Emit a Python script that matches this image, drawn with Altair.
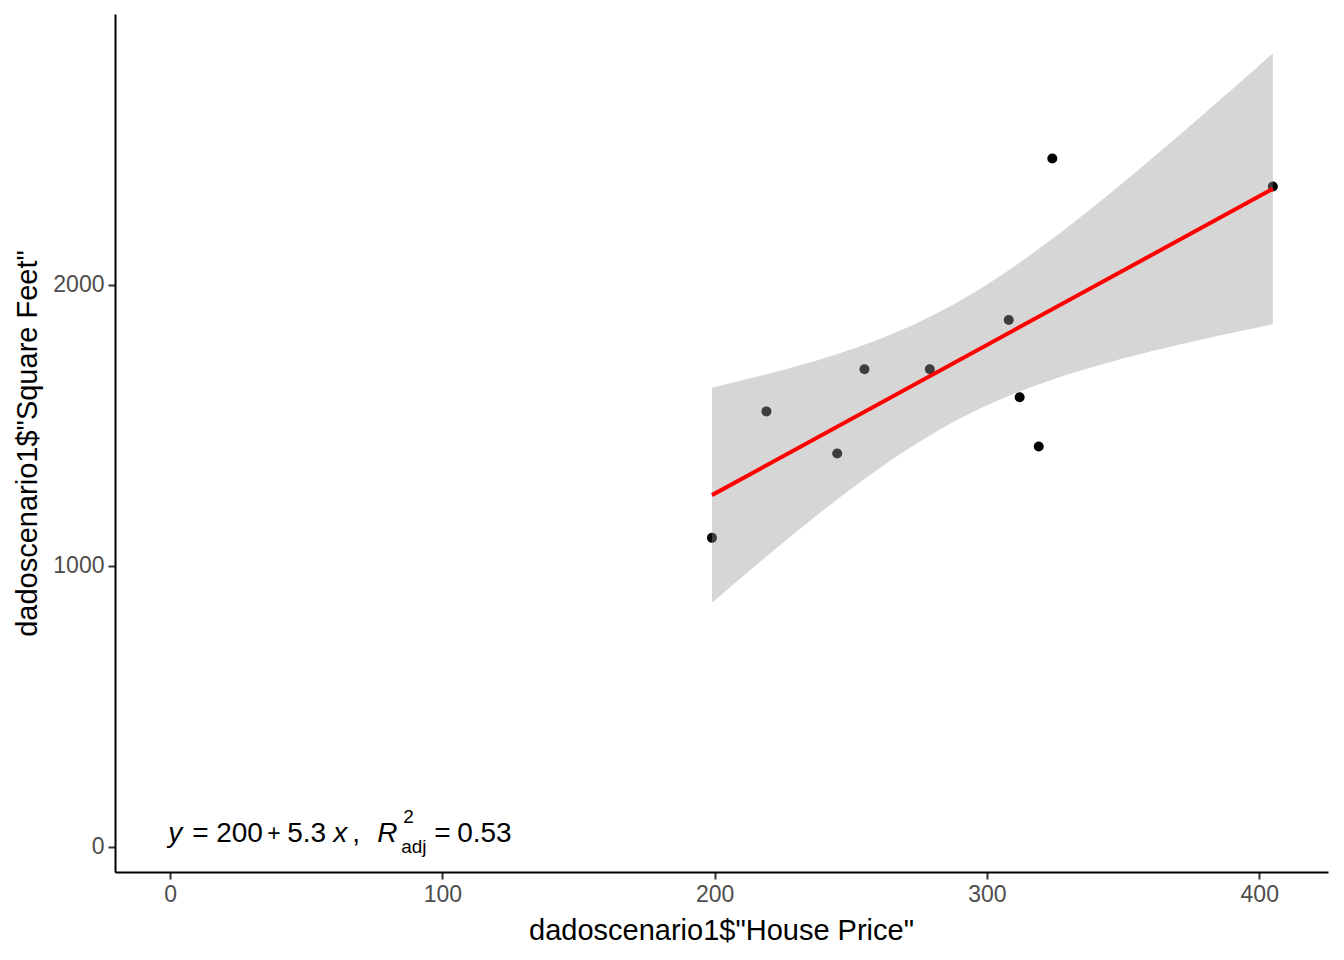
import altair as alt
import numpy as np
import pandas as pd

# ---- data ----
house_price = [245, 312, 279, 308, 199, 219, 405, 324, 319, 255]
square_feet = [1400, 1600, 1700, 1875, 1100, 1550, 2350, 2450, 1425, 1700]

x_ticks = [0, 100, 200, 300, 400]
y_ticks = [0, 1000, 2000]

x_title = 'dadoscenario1$"House Price"'
y_title = 'dadoscenario1$"Square Feet"'

eq_anchor_x = [0]
eq_anchor_y = [50]

FONT = "Liberation Sans"

points = pd.DataFrame({"price": house_price, "sqft": square_feet})

# ---- lm fit with 95% confidence band (as geom_smooth(method="lm")) ----
xv = np.array(house_price, float)
yv = np.array(square_feet, float)
n = len(xv)
slope, intercept = np.polyfit(xv, yv, 1)
resid = yv - (intercept + slope * xv)
s = np.sqrt(np.sum(resid ** 2) / (n - 2))
sxx = np.sum((xv - xv.mean()) ** 2)
t_crit = 2.306004  # qt(0.975, df = 8)
grid = np.linspace(xv.min(), xv.max(), 80)
fit = intercept + slope * grid
se = s * np.sqrt(1.0 / n + (grid - xv.mean()) ** 2 / sxx)
band = pd.DataFrame({"price": grid, "lo": fit - t_crit * se, "hi": fit + t_crit * se})

xscale = alt.Scale(domain=[-20.25, 425.25], nice=False, zero=False)
yscale = alt.Scale(domain=[-89, 2964], nice=False, zero=False)

axis_common = dict(
    grid=False,
    labelFont=FONT,
    labelFontSize=23,
    labelColor="#4D4D4D",
    tickColor="#333333",
    tickWidth=2,
    tickSize=7,
    domainColor="#000000",
    domainWidth=2,
    titleFont=FONT,
    titleFontSize=29,
    titleFontWeight="normal",
    titleColor="#000000",
    format="d",
)

xaxis = alt.Axis(
    values=x_ticks, labelPadding=4, title=x_title,
    titleX=606, titleY=67, titleAlign="center", titleBaseline="alphabetic",
    **axis_common,
)
yaxis = alt.Axis(
    values=y_ticks, labelPadding=4, title=y_title,
    titleX=-79, titleY=429, titleAngle=-90, titleAlign="center",
    titleBaseline="alphabetic",
    **axis_common,
)

pts = alt.Chart(points).mark_circle(size=100, color="#000000", opacity=1).encode(
    x=alt.X("price:Q", scale=xscale, axis=xaxis),
    y=alt.Y("sqft:Q", scale=yscale, axis=yaxis),
)

ribbon = alt.Chart(band).mark_area(color="#999999", opacity=0.4).encode(
    x=alt.X("price:Q", scale=xscale),
    y=alt.Y("lo:Q", scale=yscale),
    y2="hi:Q",
)

line = (
    alt.Chart(points)
    .transform_regression("price", "sqft", extent=[min(house_price), max(house_price)])
    .mark_line(color="#FF0000", strokeWidth=4)
    .encode(x=alt.X("price:Q", scale=xscale), y=alt.Y("sqft:Q", scale=yscale))
)

anchor = pd.DataFrame({"ex": eq_anchor_x, "ey": eq_anchor_y})

def piece(txt, dx, dy, size=28, style="normal"):
    return (
        alt.Chart(anchor)
        .mark_text(
            text=txt, align="left", baseline="alphabetic", dx=dx, dy=dy,
            font=FONT, fontSize=size, fontStyle=style, color="#000000",
        )
        .encode(x=alt.X("ex:Q", scale=xscale), y=alt.Y("ey:Q", scale=yscale))
    )

eq = [
    piece("y", -2, 9, style="italic"),
    piece("=", 22, 9),
    piece("200", 46, 9),
    piece("+", 97, 8, size=23),
    piece("5.3", 117, 9),
    piece("x", 163, 9, style="italic"),
    piece(",", 182, 9),
    piece("R", 207, 9, style="italic"),
    piece("2", 233, -10, size=19),
    piece("adj", 231, 20, size=19),
    piece("=", 264, 9),
    piece("0.53", 287, 9),
]

chart = (
    alt.layer(pts, ribbon, line, *eq)
    .properties(
        width=1213,
        height=858,
        autosize=alt.AutoSizeParams(type="none"),
        padding={"left": 107, "top": 6, "right": 8, "bottom": 80},
        background="white",
    )
    .configure_view(stroke=None)
)

chart.save("out.html", embed_options={"renderer": "svg", "actions": False})
